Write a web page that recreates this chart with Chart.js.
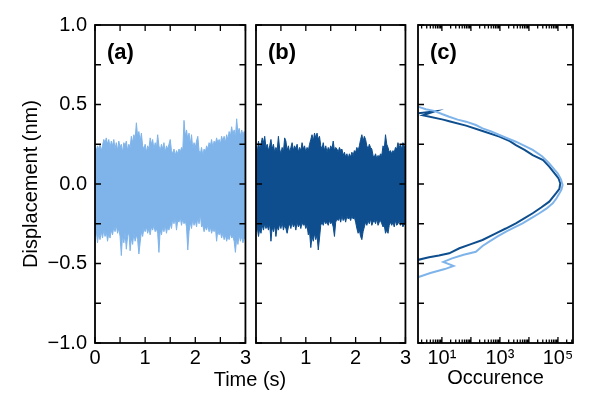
<!DOCTYPE html>
<html>
<head>
<meta charset="utf-8">
<script src="https://cdn.jsdelivr.net/npm/chart.js@4.4.0/dist/chart.umd.min.js"></script>
<style>
  body { margin: 0; background: #fff; }
  #wrap { position: relative; width: 600px; height: 395px; }
  canvas { position: absolute; top: 0; }
  #tlabel { position: absolute; left: 180px; width: 140px; top: 368px; text-align: center;
            font: 20px "Liberation Sans", Arial, sans-serif; line-height: 22px; color: #000; }
</style>
</head>
<body>
<div id="wrap">
  <canvas id="ca" width="254" height="395" style="left:0"></canvas>
  <canvas id="cb" width="166" height="395" style="left:248px"></canvas>
  <canvas id="cc" width="190" height="395" style="left:410px"></canvas>
  <div id="tlabel">Time (s)</div>
</div>
<script>
// envelope of the displacement trace, one sample every 0.025 s (0 .. 3 s)
const timeStep = 0.025;

const upperA = [
  0.23, 0.21, 0.24, 0.22, 0.25, 0.21, 0.24, 0.28, 0.26, 0.29,
  0.25, 0.28, 0.23, 0.27, 0.24, 0.28, 0.22, 0.26, 0.21, 0.27,
  0.23, 0.25, 0.20, 0.26, 0.24, 0.27, 0.21, 0.25, 0.23, 0.30,
  0.26, 0.31, 0.28, 0.385, 0.30, 0.33, 0.27, 0.32, 0.24, 0.22,
  0.25, 0.20, 0.24, 0.22, 0.29, 0.25, 0.28, 0.22, 0.26, 0.23,
  0.31, 0.24, 0.21, 0.25, 0.22, 0.26, 0.20, 0.24, 0.22, 0.25,
  0.28, 0.21, 0.19, 0.22, 0.18, 0.21, 0.19, 0.22, 0.20, 0.23,
  0.21, 0.40, 0.30, 0.34, 0.28, 0.32, 0.25, 0.31, 0.22, 0.26,
  0.23, 0.27, 0.30, 0.21, 0.19, 0.23, 0.18, 0.22, 0.20, 0.24,
  0.22, 0.26, 0.24, 0.28, 0.23, 0.27, 0.25, 0.29, 0.26, 0.28,
  0.25, 0.30, 0.27, 0.30, 0.26, 0.31, 0.28, 0.33, 0.30, 0.36,
  0.31, 0.34, 0.29, 0.41, 0.32, 0.35, 0.30, 0.34, 0.31, 0.33,
  0.32
];
const lowerA = [
  -0.33, -0.29, -0.37, -0.31, -0.35, -0.30, -0.34, -0.29, -0.33, -0.30,
  -0.36, -0.31, -0.34, -0.29, -0.32, -0.27, -0.30, -0.26, -0.31, -0.28,
  -0.33, -0.45, -0.32, -0.37, -0.31, -0.41, -0.33, -0.30, -0.42, -0.34,
  -0.38, -0.31, -0.36, -0.32, -0.35, -0.44, -0.37, -0.30, -0.33, -0.28,
  -0.30, -0.27, -0.31, -0.28, -0.32, -0.27, -0.29, -0.26, -0.30, -0.28,
  -0.31, -0.43, -0.29, -0.32, -0.27, -0.30, -0.26, -0.31, -0.27, -0.29,
  -0.25, -0.28, -0.22, -0.25, -0.21, -0.29, -0.23, -0.24, -0.21, -0.26,
  -0.22, -0.25, -0.23, -0.27, -0.415, -0.30, -0.24, -0.28, -0.22, -0.26,
  -0.23, -0.27, -0.21, -0.25, -0.19, -0.27, -0.26, -0.30, -0.27, -0.29,
  -0.26, -0.30, -0.27, -0.31, -0.28, -0.30, -0.27, -0.36, -0.29, -0.32,
  -0.30, -0.34, -0.31, -0.35, -0.32, -0.36, -0.33, -0.35, -0.31, -0.34,
  -0.33, -0.36, -0.43, -0.34, -0.38, -0.32, -0.36, -0.33, -0.37, -0.34,
  -0.35
];
const upperB = [
  0.24, 0.20, 0.27, 0.22, 0.25, 0.29, 0.26, 0.30, 0.23, 0.25,
  0.21, 0.24, 0.28, 0.22, 0.25, 0.20, 0.23, 0.21, 0.30, 0.22,
  0.19, 0.23, 0.20, 0.29, 0.27, 0.21, 0.24, 0.20, 0.23, 0.26,
  0.21, 0.24, 0.22, 0.25, 0.20, 0.23, 0.21, 0.26, 0.22, 0.24,
  0.20, 0.23, 0.21, 0.25, 0.28, 0.31, 0.27, 0.32, 0.29, 0.32,
  0.28, 0.30, 0.24, 0.22, 0.26, 0.21, 0.24, 0.20, 0.23, 0.21,
  0.24, 0.22, 0.27, 0.21, 0.23, 0.22, 0.20, 0.23, 0.21, 0.22,
  0.18, 0.20, 0.17, 0.19, 0.16, 0.19, 0.17, 0.20, 0.18, 0.21,
  0.20, 0.23, 0.21, 0.24, 0.28, 0.31, 0.27, 0.30, 0.28, 0.24,
  0.22, 0.25, 0.23, 0.22, 0.18, 0.17, 0.19, 0.16, 0.18, 0.17,
  0.19, 0.18, 0.24, 0.22, 0.31, 0.25, 0.23, 0.20, 0.21, 0.19,
  0.21, 0.20, 0.23, 0.22, 0.26, 0.23, 0.25, 0.22, 0.26, 0.24,
  0.23
];
const lowerB = [
  -0.30, -0.27, -0.33, -0.28, -0.31, -0.26, -0.29, -0.25, -0.28, -0.26,
  -0.29, -0.25, -0.36, -0.27, -0.30, -0.26, -0.33, -0.27, -0.29, -0.25,
  -0.28, -0.24, -0.29, -0.26, -0.28, -0.31, -0.27, -0.25, -0.28, -0.24,
  -0.27, -0.25, -0.29, -0.24, -0.27, -0.25, -0.28, -0.24, -0.26, -0.25,
  -0.28, -0.26, -0.32, -0.30, -0.40, -0.33, -0.36, -0.31, -0.35, -0.32,
  -0.415, -0.34, -0.26, -0.24, -0.26, -0.23, -0.25, -0.24, -0.26, -0.23,
  -0.25, -0.24, -0.27, -0.33, -0.24, -0.22, -0.23, -0.21, -0.24, -0.20,
  -0.23, -0.21, -0.24, -0.20, -0.22, -0.21, -0.23, -0.20, -0.22, -0.21,
  -0.24, -0.28, -0.31, -0.29, -0.33, -0.35, -0.30, -0.27, -0.24, -0.26,
  -0.23, -0.25, -0.22, -0.26, -0.24, -0.23, -0.25, -0.22, -0.26, -0.24,
  -0.23, -0.25, -0.27, -0.26, -0.31, -0.29, -0.31, -0.26, -0.24, -0.26,
  -0.24, -0.27, -0.23, -0.26, -0.25, -0.23, -0.26, -0.24, -0.27, -0.25,
  -0.26
];

// histogram (c): displacement (nm) vs occurrence
const dispLight = [0.485, 0.47, 0.46, 0.44, 0.423, 0.405, 0.392, 0.371, 0.35, 0.33, 0.308, 0.288, 0.266, 0.24,
  0.214, 0.175, 0.13, 0.09, 0.067, 0.03, -0.006, -0.035, -0.059, -0.09, -0.121, -0.155, -0.184, -0.215,
  -0.247, -0.273, -0.30, -0.33, -0.363, -0.39, -0.426, -0.445, -0.468, -0.49, -0.515, -0.535, -0.56, -0.585];
const countLight = [1.58, 2.8, 5.4, 10, 17.8, 35, 68, 148, 251, 501, 955, 1778, 3548, 7079,
  13490, 28180, 50120, 75860, 97720, 125900, 144500, 131800, 112200, 89130, 66070, 39810, 22910, 12020,
  6026, 3162, 1622, 832, 427, 251, 148, 56, 22.4, 11.2, 25.1, 12.6, 4.0, 1.58];
const dispDark = [0.445, 0.457, 0.432, 0.405, 0.395, 0.367, 0.333, 0.298, 0.27, 0.245, 0.215, 0.182, 0.151,
  0.109, 0.075, 0.036, 0.004, -0.03, -0.059, -0.111, -0.148, -0.184, -0.215, -0.247, -0.28, -0.31,
  -0.352, -0.378, -0.404, -0.436, -0.45, -0.461, -0.478];
const countDark = [1.58, 5.6, 2.2, 11, 17.8, 68, 251, 955, 2188, 3548, 7079, 13490, 30900,
  50120, 70790, 104700, 120200, 112200, 85110, 50120, 26300, 13490, 7079, 3548, 1585, 724,
  251, 100, 40, 17.8, 7.9, 3.6, 1.45];

const timeTicks = [0, 0.5, 1, 1.5, 2, 2.5, 3];
const dispTicks = [-1, -0.75, -0.5, -0.25, 0, 0.25, 0.5, 0.75, 1];
const countLabels = { 10: '10\u00b9', 1000: '10\u00b3', 100000: '10\u2075' };

const lightBlue = '#7fb4ea';
const darkBlue = '#0e4e8e';
const fontFam = '"Liberation Sans", Arial, sans-serif';
Chart.defaults.color = '#000';
Chart.defaults.font.family = fontFam;

// log ticks 1..9 x 10^n inside the axis range
const countMin = 1.5, countMax = 330000;
const countTicks = [];
for (let d = 0; d <= 5; d++) {
  for (let m = 1; m <= 9; m++) {
    const v = m * Math.pow(10, d);
    if (v >= countMin && v <= countMax) countTicks.push(v);
  }
}

// frame with inward ticks + panel letter
function makeFrame(label, xTicks, xMajor) {
  return {
    id: 'frame',
    afterDatasetsDraw(chart) {
      const { ctx, chartArea: a } = chart;
      const xs = chart.scales.x, ys = chart.scales.y;
      ctx.save();
      ctx.strokeStyle = '#000';
      ctx.lineWidth = 1.3;
      ctx.beginPath();
      xTicks.forEach(v => {
        const p = xs.getPixelForValue(v);
        const len = xMajor(v) ? 6 : 3.5;
        ctx.moveTo(p, a.bottom); ctx.lineTo(p, a.bottom - len);
        ctx.moveTo(p, a.top); ctx.lineTo(p, a.top + len);
      });
      dispTicks.forEach(v => {
        const p = ys.getPixelForValue(v);
        ctx.moveTo(a.left, p); ctx.lineTo(a.left + 6, p);
        ctx.moveTo(a.right, p); ctx.lineTo(a.right - 6, p);
      });
      ctx.stroke();
      ctx.lineWidth = 1.8;
      ctx.strokeRect(a.left, a.top, a.right - a.left, a.bottom - a.top);
      ctx.fillStyle = '#000';
      ctx.font = 'bold 22px ' + fontFam;
      ctx.textBaseline = 'middle';
      ctx.fillText(label, a.left + 12, a.top + 28);
      ctx.restore();
    }
  };
}

function pts(xs, ys) { return ys.map((y, i) => ({ x: xs(i), y: y })); }

const yAxisShown = {
  min: -1, max: 1,
  afterBuildTicks: s => { s.ticks = dispTicks.map(v => ({ value: v })); },
  afterFit: s => { s.width = 95; },
  grid: { display: false, drawTicks: false },
  border: { display: false },
  ticks: {
    padding: 8, font: { size: 20 },
    callback: v => (Math.abs(v * 2 - Math.round(v * 2)) < 1e-9) ? v.toFixed(1).replace('-', '\u2212') : ''
  },
  title: { display: true, text: 'Displacement (nm)', font: { size: 20 }, padding: { top: 19, bottom: 0 } }
};
const yAxisHidden = { display: false, min: -1, max: 1 };

function timeAxis(showZero) {
  return {
    type: 'linear', min: 0, max: 3,
    afterBuildTicks: s => { s.ticks = timeTicks.map(v => ({ value: v })); },
    afterFit: s => { s.height = 52; },
    grid: { display: false, drawTicks: false },
    border: { display: false },
    ticks: {
      autoSkip: false, maxRotation: 0, padding: 3, font: { size: 20 },
      callback: v => (Number.isInteger(v) && (showZero || v !== 0)) ? String(v) : ''
    }
  };
}

function bandChart(id, upper, lower, color, label, showZero, yAxis, pad) {
  const tx = i => i * timeStep;
  return new Chart(document.getElementById(id), {
    type: 'line',
    data: {
      datasets: [
        { data: pts(tx, upper), borderColor: color, backgroundColor: color, borderWidth: 1,
          pointRadius: 0, tension: 0, fill: '+1' },
        { data: pts(tx, lower), borderColor: color, backgroundColor: color, borderWidth: 1,
          pointRadius: 0, tension: 0, fill: false }
      ]
    },
    options: {
      responsive: false, animation: false,
      layout: { padding: pad },
      plugins: { legend: { display: false }, tooltip: { enabled: false } },
      scales: { x: timeAxis(showZero), y: yAxis }
    },
    plugins: [makeFrame(label, timeTicks, () => true)]
  });
}

bandChart('ca', upperA, lowerA, lightBlue, '(a)', true, yAxisShown, { top: 25, left: 0, right: 8, bottom: 0 });
bandChart('cb', upperB, lowerB, darkBlue, '(b)', false, yAxisHidden, { top: 25, left: 8, right: 6, bottom: 0 });

new Chart(document.getElementById('cc'), {
  type: 'scatter',
  data: {
    datasets: [
      { data: countLight.map((c, i) => ({ x: c, y: dispLight[i] })), showLine: true,
        borderColor: lightBlue, borderWidth: 2, pointRadius: 0, tension: 0 },
      { data: countDark.map((c, i) => ({ x: c, y: dispDark[i] })), showLine: true,
        borderColor: darkBlue, borderWidth: 2, pointRadius: 0, tension: 0 }
    ]
  },
  options: {
    responsive: false, animation: false,
    layout: { padding: { top: 25, left: 8, right: 27, bottom: 0 } },
    plugins: { legend: { display: false }, tooltip: { enabled: false } },
    scales: {
      x: {
        type: 'logarithmic', min: countMin, max: countMax,
        afterBuildTicks: s => { s.ticks = countTicks.map(v => ({ value: v })); },
        afterFit: s => { s.height = 52; },
        grid: { display: false, drawTicks: false },
        border: { display: false },
        ticks: {
          autoSkip: false, maxRotation: 0, padding: 3, font: { size: 20 },
          callback: v => countLabels[v] || ''
        },
        title: { display: true, text: 'Occurence', font: { size: 20 }, padding: { top: 0, bottom: 5 } }
      },
      y: yAxisHidden
    }
  },
  plugins: [makeFrame('(c)', countTicks, v => Math.abs(Math.log10(v) - Math.round(Math.log10(v))) < 1e-9)]
});
</script>
</body>
</html>
